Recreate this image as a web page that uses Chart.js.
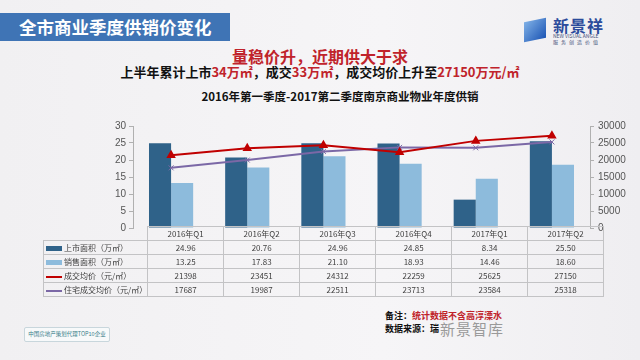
<!DOCTYPE html>
<html>
<head>
<meta charset="utf-8">
<script src="https://cdn.jsdelivr.net/npm/chart.js@4.4.0/dist/chart.umd.min.js"></script>
<style>
  body { margin: 0; width: 640px; height: 360px; overflow: hidden;
         background: linear-gradient(90deg, #f1f0f2 0%, #f6f5f7 60%, #efeef1 100%);
         font-family: "Noto Sans CJK SC", "Noto Sans", sans-serif; position: relative; }
  .abs { position: absolute; }
  #banner { left: 0; top: 13px; width: 230px; height: 28px; background: #3f74b5;
            color: #fff; font-weight: bold; font-size: 17.5px; line-height: 28px; padding-left: 19px; box-sizing: border-box; }
  #head1 { left: 0; width: 640px; top: 46px; text-align: center; color: #c0232b; font-weight: bold; font-size: 16px; line-height: 20px; }
  #head2 { left: 0; width: 640px; top: 63px; text-align: center; color: #111; font-weight: bold; font-size: 13px; line-height: 18px; }
  #head2 span { color: #c0232b; }
  #head3 { left: 0; width: 680px; top: 88px; text-align: center; color: #111; font-weight: bold; font-size: 11.5px; line-height: 16px; }
  #logo { left: 553px; top: 17px; color: #2b4b9b; }
  #logo .big { font-size: 16px; font-weight: bold; line-height: 16px; letter-spacing: 1px; }
  #logo .s1 { font-size: 5px; line-height: 6px; color: #46507a; }
  #logo .s2 { font-size: 5px; line-height: 6px; color: #46507a; letter-spacing: 3px; }
  #cube { left: 524px; top: 20px; width: 22px; height: 20px; background: linear-gradient(135deg, #7fb0e6, #1d56b5); transform: skewY(-12deg); }
  #wrap { left: 93px; top: 116px; width: 545px; height: 122px; }
  table { border-collapse: collapse; left: 43px; top: 226px; font-size: 8px; color: #404040; }
  td { border: 1px solid #c3c3c5; height: 13px; padding: 0; text-align: center; width: 75px; }
  td.lab { width: 89px; text-align: left; border-left: 1px solid #c3c3c5; white-space: nowrap; }
  tr.hd td { height: 13px; }
  .key { display: inline-block; width: 16px; vertical-align: middle; margin: 0 2px 0 2px; }
  #note { left: 385px; top: 309px; font-size: 9px; font-weight: bold; color: #111; line-height: 13px; }
  #note span { color: #c0232b; }
  #wm { left: 440px; top: 318px; font-size: 15px; color: #9a9a9a; letter-spacing: 1px; }
  #badge { left: 24px; top: 327px; width: 84px; height: 13px; border: 1px solid #c8d6dc; border-radius: 2px;
           background: #f7f9fa; font-size: 5.5px; color: #3a7f8a; text-align: center; line-height: 13px; }
</style>
</head>
<body>
<div id="banner" class="abs">全市商业季度供销价变化</div>
<div id="cube" class="abs"></div>
<div id="logo" class="abs"><div class="big">新景祥</div><div class="s1">NEW VISUAL ANGLE</div><div class="s2">服务创造价值</div></div>
<div id="head1" class="abs">量稳价升，近期供大于求</div>
<div id="head2" class="abs">上半年累计上市<span>34万㎡</span>，成交<span>33万㎡</span>，成交均价上升至<span>27150万元/㎡</span></div>
<div id="head3" class="abs">2016年第一季度-2017第二季度南京商业物业年度供销</div>
<div id="wrap" class="abs"><canvas id="c" width="545" height="122"></canvas></div>
<table id="tbl" class="abs"></table>
<div id="note" class="abs">备注：<span>统计数据不含高淳溧水</span><br>数据来源：瑞</div>
<div id="wm" class="abs">新景智库</div>
<div id="badge" class="abs">中国房地产策划代理TOP10企业</div>
<script>
const quarters = ["2016年Q1", "2016年Q2", "2016年Q3", "2016年Q4", "2017年Q1", "2017年Q2"];
const supplyArea = [24.96, 20.76, 24.96, 24.85, 8.34, 25.50];
const salesArea = [13.25, 17.83, 21.10, 18.93, 14.46, 18.60];
const avgPrice = [21398, 23451, 24312, 22259, 25625, 27150];
const housePrice = [17687, 19987, 22511, 23713, 23584, 25318];
const leftTicks = [0, 5, 10, 15, 20, 25, 30];
const rightTicks = [0, 5000, 10000, 15000, 20000, 25000, 30000];

const series = [
  { label: "上市面积（万㎡）", data: supplyArea, color: "#2f6289", kind: "bar" },
  { label: "销售面积（万㎡）", data: salesArea, color: "#8dbbdc", kind: "bar" },
  { label: "成交均价（元/㎡）", data: avgPrice, color: "#c00000", kind: "line" },
  { label: "住宅成交均价（元/㎡）", data: housePrice, color: "#7b68a6", kind: "line" }
];

new Chart(document.getElementById("c"), {
  data: {
    labels: quarters,
    datasets: [
      { type: "line", label: series[2].label, data: avgPrice, yAxisID: "y1", order: 0,
        borderColor: "#c00000", backgroundColor: "#c00000", borderWidth: 2,
        pointStyle: "triangle", pointRadius: 3.5, tension: 0 },
      { type: "line", label: series[3].label, data: housePrice, yAxisID: "y1", order: 1,
        borderColor: "#7b68a6", backgroundColor: "#7b68a6", borderWidth: 2,
        pointStyle: "crossRot", pointRadius: 3.5, pointBorderWidth: 1, tension: 0 },
      { type: "bar", label: series[0].label, data: supplyArea, yAxisID: "y", order: 2,
        backgroundColor: "#2f6289", categoryPercentage: 0.58, barPercentage: 1 },
      { type: "bar", label: series[1].label, data: salesArea, yAxisID: "y", order: 2,
        backgroundColor: "#8dbbdc", categoryPercentage: 0.58, barPercentage: 1 }
    ]
  },
  options: {
    responsive: false,
    animation: false,
    layout: { padding: { top: 10, bottom: 1, left: 0, right: 0 } },
    plugins: { legend: { display: false }, tooltip: { enabled: false } },
    scales: {
      x: { display: false },
      y: {
        position: "left", min: 0, max: 30,
        afterFit: s => { s.width = 40; },
        afterBuildTicks: s => { s.ticks = leftTicks.map(v => ({ value: v })); },
        border: { color: "#b0b0b0" },
        grid: { drawOnChartArea: false, color: "#b0b0b0", tickLength: 4 },
        ticks: { color: "#555", font: { size: 10, family: "Liberation Sans" }, padding: 3 }
      },
      y1: {
        position: "right", min: 0, max: 30000,
        afterFit: s => { s.width = 48; },
        afterBuildTicks: s => { s.ticks = rightTicks.map(v => ({ value: v })); },
        border: { color: "#b0b0b0" },
        grid: { drawOnChartArea: false, color: "#b0b0b0", tickLength: 4 },
        ticks: { color: "#555", font: { size: 10, family: "Liberation Sans" }, padding: 4,
                 callback: v => String(v) }
      }
    }
  }
});

// data table under the chart, built from the same arrays
const tbl = document.getElementById("tbl");
let html = '<tr class="hd"><td class="lab" style="border:none;border-right:1px solid #c3c3c5"></td>' +
  quarters.map(q => "<td>" + q + "</td>").join("") + "</tr>";
series.forEach(s => {
  let key;
  if (s.kind === "bar") {
    key = '<span class="key" style="height:5px;background:' + s.color + '"></span>';
  } else {
    key = '<span class="key" style="height:2px;background:' + s.color + '"></span>';
  }
  const vals = s.data.map(v => "<td>" + (s.kind === "bar" ? v.toFixed(2) : v) + "</td>").join("");
  html += '<tr><td class="lab">' + key + s.label + "</td>" + vals + "</tr>";
});
tbl.innerHTML = html;
</script>
</body>
</html>
